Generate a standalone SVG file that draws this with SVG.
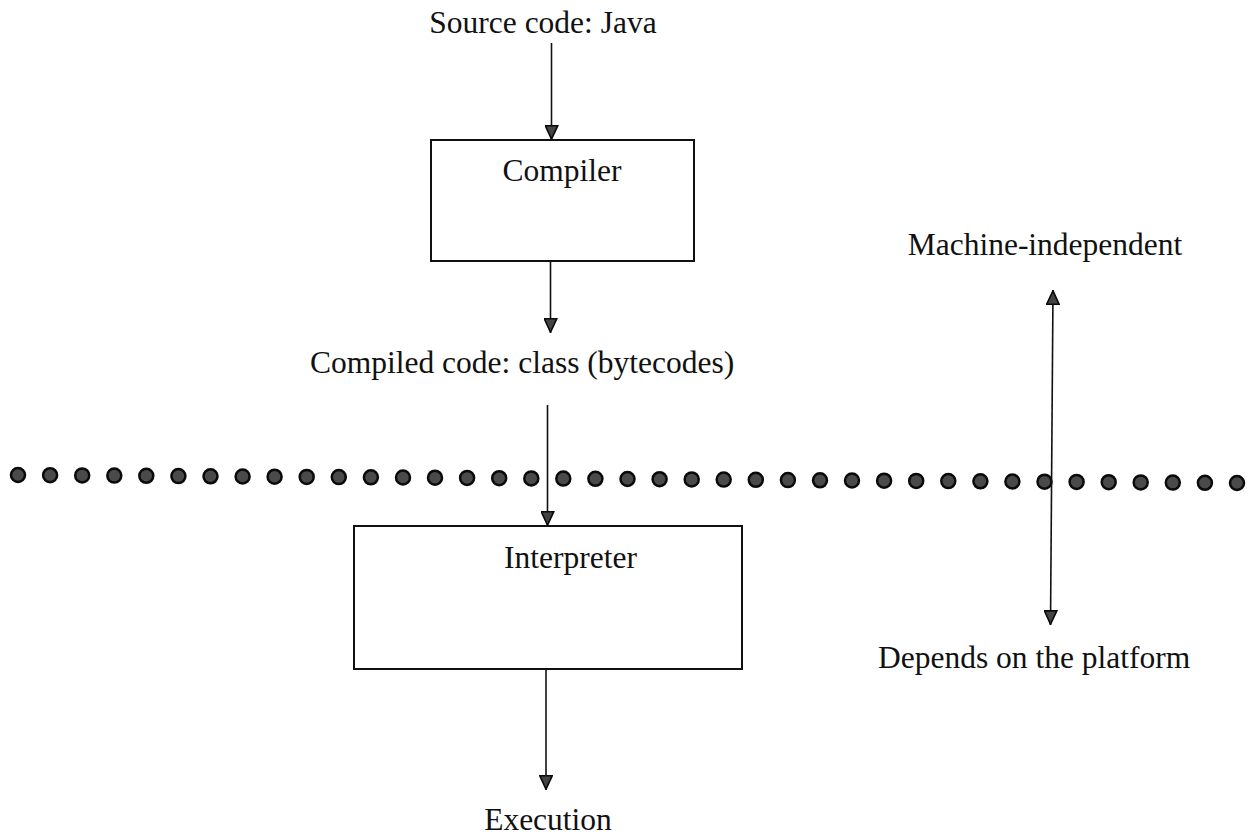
<svg xmlns="http://www.w3.org/2000/svg" width="1248" height="836" viewBox="0 0 1248 836">
  <style>
    .lbl { font-family: "Liberation Serif", "Times New Roman", serif; font-size: 31.5px; fill: #111; }
    .box { fill: #fff; stroke: #111; stroke-width: 2; }
    .wire { stroke: #111; stroke-width: 1.6; fill: none; }
    .dot { fill: #4a4a4a; stroke: #0a0a0a; stroke-width: 2.5; }
  </style>
  <defs>
    <!-- filled triangular head, drawn pointing along +x so orient="auto" turns it -->
    <marker id="head" viewBox="0 0 15 14" refX="15" refY="7" markerWidth="15" markerHeight="14" markerUnits="userSpaceOnUse" orient="auto-start-reverse">
      <path d="M0.8,0.8 L14.2,7 L0.8,13.2 Z" fill="#444" stroke="#0a0a0a" stroke-width="1.6" stroke-linejoin="miter"/>
    </marker>
  </defs>
  <rect width="1248" height="836" fill="#fff"/>

  <!-- platform boundary: row of dots -->
  <g id="boundary">
    <circle class="dot" cx="18" cy="475" r="7"/>
    <circle class="dot" cx="50.1" cy="475.2" r="7"/>
    <circle class="dot" cx="82.2" cy="475.4" r="7"/>
    <circle class="dot" cx="114.3" cy="475.6" r="7"/>
    <circle class="dot" cx="146.3" cy="475.8" r="7"/>
    <circle class="dot" cx="178.4" cy="476.1" r="7"/>
    <circle class="dot" cx="210.5" cy="476.3" r="7"/>
    <circle class="dot" cx="242.6" cy="476.5" r="7"/>
    <circle class="dot" cx="274.6" cy="476.7" r="7"/>
    <circle class="dot" cx="306.7" cy="476.9" r="7"/>
    <circle class="dot" cx="338.8" cy="477.1" r="7"/>
    <circle class="dot" cx="370.9" cy="477.3" r="7"/>
    <circle class="dot" cx="403" cy="477.5" r="7"/>
    <circle class="dot" cx="435" cy="477.7" r="7"/>
    <circle class="dot" cx="467.1" cy="477.9" r="7"/>
    <circle class="dot" cx="499.2" cy="478.2" r="7"/>
    <circle class="dot" cx="531.3" cy="478.4" r="7"/>
    <circle class="dot" cx="563.3" cy="478.6" r="7"/>
    <circle class="dot" cx="595.4" cy="478.8" r="7"/>
    <circle class="dot" cx="627.5" cy="479" r="7"/>
    <circle class="dot" cx="659.6" cy="479.2" r="7"/>
    <circle class="dot" cx="691.7" cy="479.4" r="7"/>
    <circle class="dot" cx="723.7" cy="479.6" r="7"/>
    <circle class="dot" cx="755.8" cy="479.8" r="7"/>
    <circle class="dot" cx="787.9" cy="480.1" r="7"/>
    <circle class="dot" cx="820" cy="480.3" r="7"/>
    <circle class="dot" cx="852" cy="480.5" r="7"/>
    <circle class="dot" cx="884.1" cy="480.7" r="7"/>
    <circle class="dot" cx="916.2" cy="480.9" r="7"/>
    <circle class="dot" cx="948.3" cy="481.1" r="7"/>
    <circle class="dot" cx="980.4" cy="481.3" r="7"/>
    <circle class="dot" cx="1012.4" cy="481.5" r="7"/>
    <circle class="dot" cx="1044.5" cy="481.7" r="7"/>
    <circle class="dot" cx="1076.6" cy="481.9" r="7"/>
    <circle class="dot" cx="1108.7" cy="482.2" r="7"/>
    <circle class="dot" cx="1140.7" cy="482.4" r="7"/>
    <circle class="dot" cx="1172.8" cy="482.6" r="7"/>
    <circle class="dot" cx="1204.9" cy="482.8" r="7"/>
    <circle class="dot" cx="1237" cy="483" r="7"/>
  </g>

  <!-- connectors -->
  <g id="connectors">
    <line class="wire" x1="551.5" y1="43" x2="551.5" y2="140" marker-end="url(#head)"/>
    <line class="wire" x1="550.5" y1="261" x2="550.5" y2="333" marker-end="url(#head)"/>
    <line class="wire" x1="547.5" y1="405" x2="547.5" y2="526" marker-end="url(#head)"/>
    <line class="wire" x1="546" y1="669" x2="546" y2="790" marker-end="url(#head)"/>
    <line class="wire" x1="1053" y1="290" x2="1050.5" y2="625" marker-start="url(#head)" marker-end="url(#head)"/>
  </g>

  <!-- labels and boxes -->
  <g id="source">
    <text class="lbl" x="543" y="33" text-anchor="middle">Source code: Java</text>
  </g>
  <g id="compiler">
    <rect class="box" x="431" y="140" width="263" height="121"/>
    <text class="lbl" x="562" y="181" text-anchor="middle">Compiler</text>
  </g>
  <g id="bytecodes">
    <text class="lbl" x="310" y="373">Compiled code: class (bytecodes)</text>
  </g>
  <g id="interpreter">
    <rect class="box" x="354" y="526" width="388" height="143"/>
    <text class="lbl" x="504" y="568">Interpreter</text>
  </g>
  <g id="execution">
    <text class="lbl" x="548" y="830" text-anchor="middle">Execution</text>
  </g>
  <g id="machine-independent">
    <text class="lbl" x="1045" y="255" text-anchor="middle">Machine-independent</text>
  </g>
  <g id="platform-dependent">
    <text class="lbl" x="878" y="668">Depends on the platform</text>
  </g>
</svg>
